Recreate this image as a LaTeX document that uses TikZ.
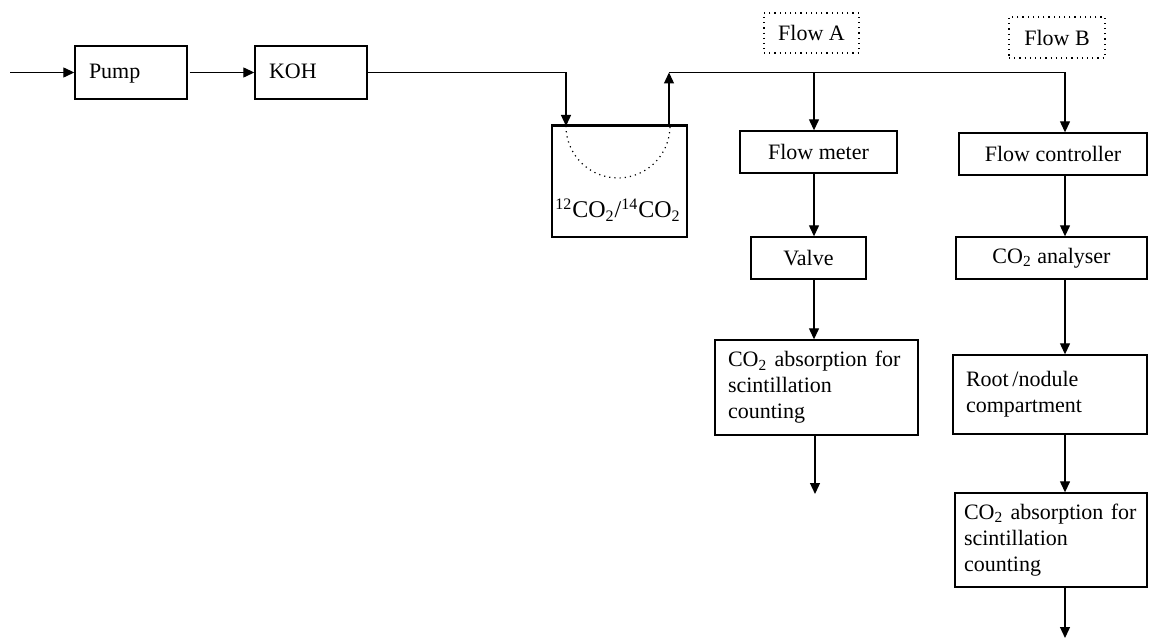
\documentclass[tikz,border=0pt]{standalone}
\usepackage{fontspec}
\setmainfont{Liberation Serif}
\usetikzlibrary{arrows.meta}

\begin{document}
\begin{tikzpicture}[x=0.5pt,y=-0.5pt,font=\fontsize{11}{13}\selectfont]
    \tikzstyle{unit}=[draw, line width=0.7pt, inner sep=0pt, minimum height=21pt, align=center]
    \tikzstyle{lunit}=[draw, line width=0.7pt, inner xsep=6.5pt, inner ysep=0pt, align=left]
    \tikzstyle{tag}=[draw, dotted, line width=0.6pt, inner sep=0pt, minimum width=47.5pt, minimum height=20pt]
    \tikzstyle{pipe}=[line width=0.65pt]
    \tikzstyle{flow}=[pipe, -{Triangle[length=5.5pt,width=5pt]}]

    \useasboundingbox (0,0) rectangle (1149,641);

    % supply line
    \node[lunit, text width=42pt, inner xsep=7pt, minimum height=26.5pt, text depth=1pt] (pump) at (131,72.5) {Pump};
    \node[lunit, text width=42pt, inner xsep=7pt, minimum height=26.5pt, text depth=1pt] (koh) at (311,72.5) {KOH};
    \node[draw, line width=0.7pt, minimum width=67.5pt, minimum height=55.5pt, inner sep=0pt] (vessel) at (619.5,181.5) {};
    \node[font=\fontsize{12}{14}\selectfont, inner sep=0pt] (vesselLabel) at (618,210)
      {\textsuperscript{12}CO\textsubscript{2}/\textsuperscript{14}CO\textsubscript{2}};
    \draw[line width=1.1pt] (vessel.north west) -- (vessel.north east);

    \coordinate (inp) at (10,72.5);
    \coordinate (inlet) at (566,126);
    \coordinate (outlet) at (669,126);
    \coordinate (rise) at (669,72.5);
    \coordinate (tapA) at (814,72.5);
    \coordinate (tapB) at (1065,72.5);
    \draw[dotted, line width=0.6pt] (inlet) arc[start angle=180, delta angle=180, radius=26pt];

    % flow A
    \node[tag] (flowA) at (811.5,33) {Flow A};
    \node[unit, minimum width=78.5pt] (meter) at (818.5,152) {Flow meter};
    \node[unit, minimum width=57.5pt] (valve) at (808.5,258) {Valve};
    \node[lunit, text width=88.5pt, minimum height=47.5pt] (absA) at (816.5,387.5)
      {CO\textsubscript{2} absorption for\\scintillation\\counting};
    \coordinate (outA) at (815,494);

    % flow B
    \node[tag, minimum width=48pt, minimum height=20.5pt] (flowB) at (1057,37.5) {Flow B};
    \node[unit, minimum width=94pt] (ctrl) at (1053,154) {Flow controller};
    \node[unit, minimum width=95.5pt] (analyser) at (1051.5,258) {CO\textsubscript{2} analyser};
    \node[lunit, text width=84pt, minimum height=39.5pt] (root) at (1050,394.5)
      {Root\,/nodule\\compartment};
    \node[lunit, text width=87pt, inner xsep=4.5pt, minimum height=47pt] (absB) at (1051,540)
      {CO\textsubscript{2} absorption for\\scintillation\\counting};
    \coordinate (outB) at (1065,638);

    \draw[flow] (inp) -- (pump);
    \draw[flow] ([xshift=1pt]pump.east) -- (koh);
    \draw[flow] (koh.east) -| (inlet);
    \draw[flow] (outlet) -- (rise);
    \draw[pipe] (rise) -- (tapB);

    \draw[flow] (tapA) -- (tapA |- meter.north);
    \draw[flow] (tapA |- meter.south) -- (tapA |- valve.north);
    \draw[flow] (tapA |- valve.south) -- (tapA |- absA.north);
    \draw[flow] (outA |- absA.south) -- (outA);

    \draw[flow] (tapB) -- (tapB |- ctrl.north);
    \draw[flow] (tapB |- ctrl.south) -- (tapB |- analyser.north);
    \draw[flow] (tapB |- analyser.south) -- (tapB |- root.north);
    \draw[flow] (tapB |- root.south) -- (tapB |- absB.north);
    \draw[flow] (outB |- absB.south) -- (outB);
  \end{tikzpicture}
\end{document}
